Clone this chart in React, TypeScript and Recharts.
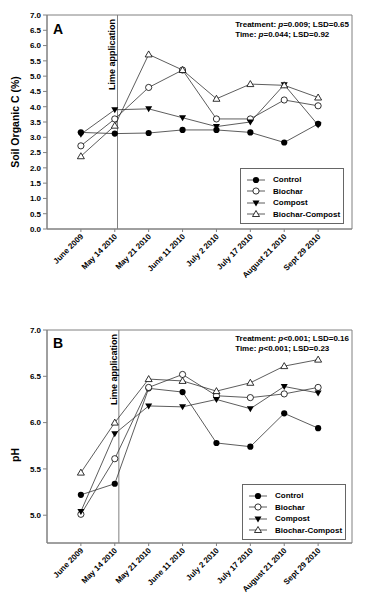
import React from 'react';
import {
  LineChart,
  Line,
  XAxis,
  YAxis,
  ReferenceLine,
  ReferenceArea,
  Label,
} from 'recharts';

const dates = [
  'June 2009',
  'May 14 2010',
  'May 21 2010',
  'June 11 2010',
  'July 2 2010',
  'July 17 2010',
  'August 21 2010',
  'Sept 29 2010',
];

// Soil organic C (%)
const socControl = [3.16, 3.12, 3.14, 3.24, 3.24, 3.16, 2.83, 3.44];
const socBiochar = [2.72, 3.6, 4.63, 5.2, 3.6, 3.6, 4.22, 4.03];
const socCompost = [3.1, 3.9, 3.93, 3.64, 3.35, 3.5, 4.72, 3.4];
const socBiocharCompost = [2.38, 3.38, 5.71, 5.2, 4.26, 4.74, 4.7, 4.3];

// pH
const phControl = [5.22, 5.34, 6.37, 6.33, 5.78, 5.74, 6.1, 5.94];
const phBiochar = [5.01, 5.61, 6.38, 6.52, 6.29, 6.27, 6.31, 6.38];
const phCompost = [5.04, 5.88, 6.18, 6.17, 6.25, 6.15, 6.39, 6.32];
const phBiocharCompost = [5.46, 6.0, 6.47, 6.45, 6.34, 6.43, 6.61, 6.68];

const socTicks = [0, 0.5, 1, 1.5, 2, 2.5, 3, 3.5, 4, 4.5, 5, 5.5, 6, 6.5, 7];
const phTicks = [5, 5.5, 6, 6.5, 7];
const xTicks = [0, 1, 2, 3, 4, 5, 6, 7];

const series = [
  { key: 'control', name: 'Control' },
  { key: 'biochar', name: 'Biochar' },
  { key: 'compost', name: 'Compost' },
  { key: 'bc', name: 'Biochar-Compost' },
];

const FONT = '"Liberation Sans", Arial, sans-serif';
const AXIS = '#808080';

function rows(c: number[], b: number[], k: number[], bc: number[]) {
  return dates.map((d, i) => ({ i, date: d, control: c[i], biochar: b[i], compost: k[i], bc: bc[i] }));
}

function Marker({ cx, cy, kind }: { cx: number; cy: number; kind: string }) {
  if (cx == null || cy == null) return null;
  if (kind === 'control') return <circle cx={cx} cy={cy} r={3.1} fill="#000" />;
  if (kind === 'biochar')
    return <circle cx={cx} cy={cy} r={3.1} fill="#fff" stroke="#000" strokeWidth={0.8} />;
  if (kind === 'compost')
    return (
      <polygon
        points={`${cx - 3.5},${cy - 2.5} ${cx + 3.5},${cy - 2.5} ${cx},${cy + 3.5}`}
        fill="#000"
      />
    );
  return (
    <polygon
      points={`${cx - 3.5},${cy + 2.5} ${cx + 3.5},${cy + 2.5} ${cx},${cy - 3.5}`}
      fill="#fff"
      stroke="#000"
      strokeWidth={0.8}
    />
  );
}

const DateTick = (props: any) => {
  const { x, y, payload } = props;
  const tx = x + 3;
  const ty = y + 3;
  return (
    <text
      x={tx}
      y={ty}
      transform={`rotate(-45 ${tx} ${ty})`}
      textAnchor="end"
      fontSize={8}
      fontWeight="bold"
      fontFamily={FONT}
      fill="#000"
    >
      {dates[payload.value]}
    </text>
  );
};

function LimeLabel(props: any) {
  const vb = props.viewBox || {};
  const x = vb.x - 2;
  const y = vb.y + 4;
  return (
    <text
      x={x}
      y={y}
      transform={`rotate(-90 ${x} ${y})`}
      textAnchor="end"
      fontSize={9}
      fontWeight="bold"
      fontFamily={FONT}
      fill="#000"
    >
      Lime application
    </text>
  );
}

function LegendBox({ left, top }: { left: number; top: number }) {
  return (
    <div
      style={{
        position: 'absolute',
        left,
        top,
        width: 104,
        height: 56,
        border: '1px solid #666',
        background: '#fff',
        boxSizing: 'border-box',
        paddingTop: 5,
      }}
    >
      {series.map((s) => (
        <div key={s.key} style={{ display: 'flex', alignItems: 'center', height: 11.5 }}>
          <svg width={28} height={10} style={{ marginLeft: 5 }}>
            <line x1={1} y1={5} x2={19} y2={5} stroke="#333" strokeWidth={0.8} />
            <Marker cx={10} cy={5} kind={s.key} />
          </svg>
          <span style={{ fontSize: 8, fontWeight: 'bold', marginLeft: -1 }}>{s.name}</span>
        </div>
      ))}
    </div>
  );
}

type PanelProps = {
  data: any[];
  height: number;
  top: number;
  marginTop: number;
  xHeight: number;
  yDomain: [number, number];
  yTicks: number[];
  yLabel: string;
  yLabelY: number;
  letter: string;
  letterTop: number;
  stats: [string, string];
  statsTop: number;
  lime: number;
  legendTop: number;
  legendLeft: number;
};

function Panel(p: PanelProps) {
  return (
    <div style={{ position: 'absolute', left: 0, top: p.top, width: 372, height: p.height }}>
      <LineChart
        width={372}
        height={p.height}
        data={p.data}
        margin={{ top: p.marginTop, right: 20, bottom: 0, left: 17 }}
      >
        <XAxis
          dataKey="i"
          type="number"
          domain={[-1, 8]}
          ticks={xTicks}
          interval={0}
          height={p.xHeight}
          tick={<DateTick />}
          tickSize={3}
          tickMargin={2}
          stroke={AXIS}
          allowDataOverflow
        />
        <YAxis
          type="number"
          domain={p.yDomain}
          ticks={p.yTicks}
          interval={0}
          width={30}
          tickSize={4}
          tickMargin={2}
          stroke={AXIS}
          tick={{ fontSize: 8, fontWeight: 'bold', fill: '#000', fontFamily: FONT }}
          tickFormatter={(v: number) => v.toFixed(1)}
          allowDataOverflow
        >
          <Label
            content={() => (
              <text
                x={15}
                y={p.yLabelY}
                transform={`rotate(-90 15 ${p.yLabelY})`}
                textAnchor="middle"
                dominantBaseline="central"
                fontSize={10.5}
                fontWeight="bold"
                fontFamily={FONT}
                fill="#000"
              >
                {p.yLabel}
              </text>
            )}
          />
        </YAxis>
        <ReferenceArea
          x1={-1}
          x2={8}
          y1={p.yDomain[0]}
          y2={p.yDomain[1]}
          fill="none"
          stroke={AXIS}
          strokeWidth={1}
          ifOverflow="visible"
        />
        <ReferenceLine x={p.lime} stroke={AXIS} strokeWidth={1} label={<LimeLabel />} />
        {series.map((s) => (
          <Line
            key={s.key}
            dataKey={s.key}
            name={s.name}
            stroke="#333"
            strokeWidth={0.8}
            isAnimationActive={false}
            dot={(d: any) => <Marker key={`${s.key}-${d.index}`} cx={d.cx} cy={d.cy} kind={s.key} />}
            activeDot={false}
          />
        ))}
      </LineChart>
      <div
        style={{
          position: 'absolute',
          left: 53,
          top: p.letterTop,
          fontSize: 14,
          fontWeight: 'bold',
          lineHeight: '14px',
        }}
      >
        {p.letter}
      </div>
      <div
        style={{
          position: 'absolute',
          right: 23,
          top: p.statsTop,
          fontSize: 8,
          fontWeight: 'bold',
          lineHeight: '10px',
          textAlign: 'left',
          whiteSpace: 'nowrap',
        }}
      >
        <div>
          Treatment: <i>p</i>
          {p.stats[0]}
        </div>
        <div>
          Time: <i>p</i>
          {p.stats[1]}
        </div>
      </div>
      <LegendBox left={p.legendLeft} top={p.legendTop} />
    </div>
  );
}

export default function App() {
  const socData = rows(socControl, socBiochar, socCompost, socBiocharCompost);
  const phData = rows(phControl, phBiochar, phCompost, phBiocharCompost);
  return (
    <div
      style={{
        position: 'absolute',
        left: 0,
        top: 0,
        width: 372,
        height: 604,
        background: '#fff',
        fontFamily: FONT,
        color: '#000',
      }}
    >
      <Panel
        data={socData}
        height={300}
        top={0}
        marginTop={15}
        xHeight={71}
        yDomain={[0, 7]}
        yTicks={socTicks}
        yLabel="Soil Organic C (%)"
        yLabelY={122}
        letter="A"
        letterTop={22}
        stats={['=0.009; LSD=0.65', '=0.044; LSD=0.92']}
        statsTop={20}
        lime={1.08}
        legendLeft={240}
        legendTop={168}
      />
      <Panel
        data={phData}
        height={304}
        top={300}
        marginTop={30}
        xHeight={61}
        yDomain={[4.7, 7]}
        yTicks={phTicks}
        yLabel="pH"
        yLabelY={155}
        letter="B"
        letterTop={36}
        stats={['<0.001; LSD=0.16', '<0.001; LSD=0.23']}
        statsTop={34}
        lime={1.12}
        legendLeft={242}
        legendTop={184}
      />
    </div>
  );
}
